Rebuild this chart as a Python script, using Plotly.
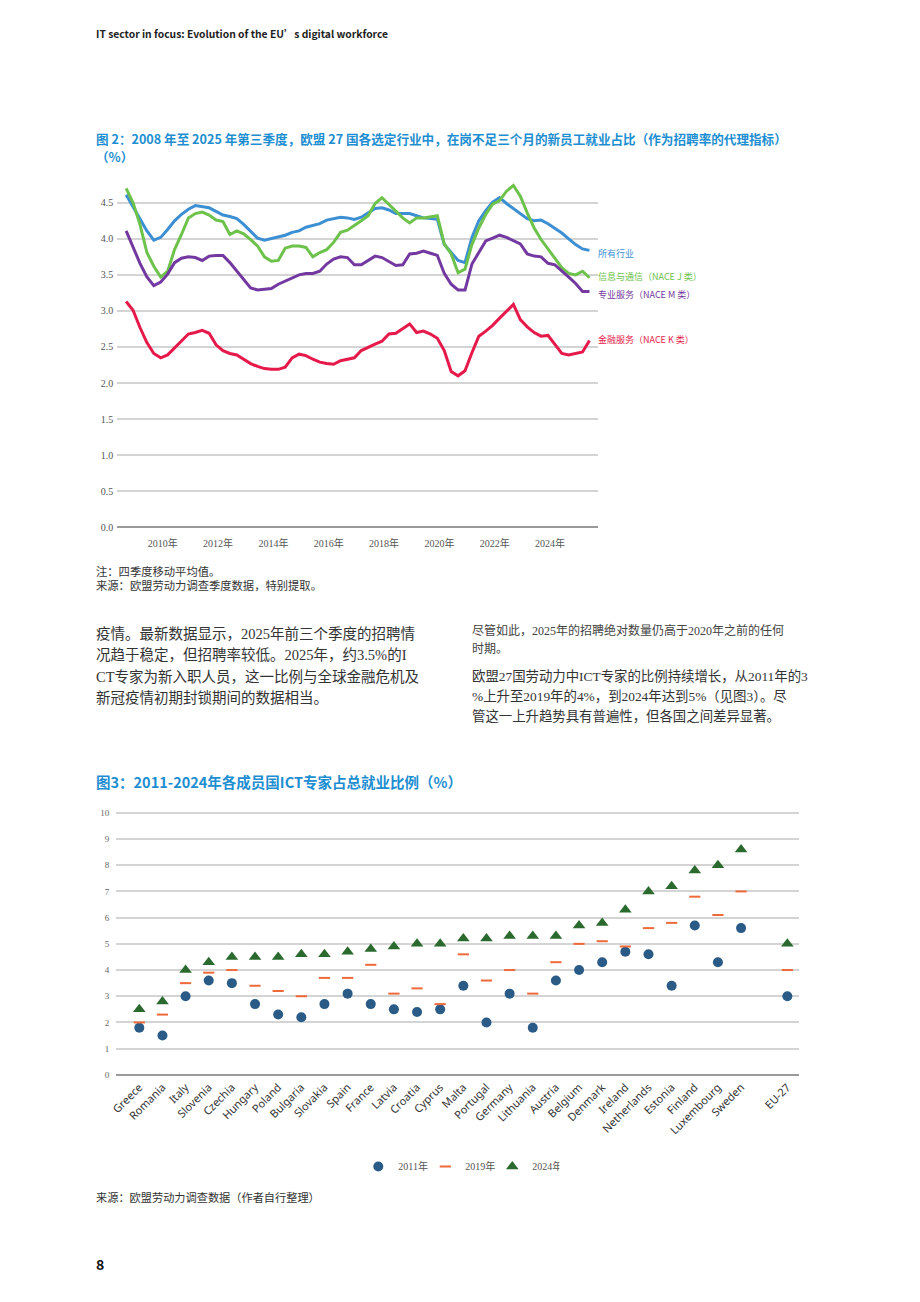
import plotly.graph_objects as go

# ---------------- Data: Figure 2 (quarterly, 2008Q4 - 2025Q3) ----------------
quarters = [f"{y}Q{q}" for y in range(2008, 2026) for q in range(1, 5)]
quarters = quarters[quarters.index("2008Q4"):quarters.index("2025Q3") + 1]

all_industries = [4.61, 4.45, 4.29, 4.11, 3.98, 4.02, 4.13, 4.25, 4.34, 4.41, 4.46, 4.44, 4.43, 4.38, 4.33, 4.31,
                  4.28, 4.20, 4.11, 4.01, 3.98, 4.00, 4.03, 4.05, 4.09, 4.11, 4.16, 4.19, 4.21, 4.26, 4.28, 4.30,
                  4.29, 4.27, 4.30, 4.36, 4.42, 4.43, 4.40, 4.35, 4.35, 4.35, 4.32, 4.29, 4.28, 4.27, 3.92, 3.81,
                  3.70, 3.67, 4.02, 4.25, 4.39, 4.51, 4.57, 4.49, 4.42, 4.35, 4.28, 4.25, 4.26, 4.21, 4.15, 4.08,
                  4.00, 3.92, 3.86, 3.84]
info_comm = [4.70, 4.50, 4.20, 3.81, 3.62, 3.47, 3.55, 3.85, 4.06, 4.29, 4.35, 4.37, 4.33, 4.26, 4.24, 4.06,
             4.11, 4.07, 3.99, 3.90, 3.75, 3.69, 3.70, 3.87, 3.90, 3.90, 3.88, 3.75, 3.81, 3.85, 3.95, 4.09,
             4.12, 4.18, 4.25, 4.32, 4.49, 4.57, 4.48, 4.38, 4.29, 4.22, 4.29, 4.29, 4.31, 4.32, 3.93, 3.79,
             3.53, 3.58, 3.92, 4.15, 4.34, 4.48, 4.53, 4.66, 4.74, 4.59, 4.36, 4.15, 3.99, 3.86, 3.72, 3.60,
             3.52, 3.50, 3.55, 3.46]
prof_services = [4.11, 3.88, 3.66, 3.47, 3.35, 3.40, 3.51, 3.67, 3.73, 3.75, 3.74, 3.70, 3.76, 3.77, 3.77, 3.67,
                 3.55, 3.43, 3.32, 3.29, 3.30, 3.31, 3.37, 3.41, 3.45, 3.50, 3.52, 3.52, 3.55, 3.65, 3.72, 3.75,
                 3.74, 3.64, 3.64, 3.70, 3.76, 3.74, 3.69, 3.63, 3.64, 3.79, 3.80, 3.83, 3.80, 3.77, 3.52, 3.37,
                 3.29, 3.29, 3.65, 3.81, 3.97, 4.01, 4.05, 4.02, 3.98, 3.93, 3.79, 3.76, 3.75, 3.66, 3.64, 3.56,
                 3.47, 3.38, 3.27, 3.27]
fin_services = [3.13, 3.01, 2.77, 2.56, 2.41, 2.35, 2.39, 2.49, 2.59, 2.68, 2.70, 2.73, 2.69, 2.53, 2.45, 2.41,
                2.39, 2.33, 2.27, 2.23, 2.20, 2.19, 2.19, 2.22, 2.35, 2.40, 2.38, 2.33, 2.29, 2.27, 2.26, 2.31,
                2.33, 2.35, 2.45, 2.50, 2.54, 2.58, 2.68, 2.69, 2.75, 2.82, 2.70, 2.72, 2.68, 2.62, 2.45, 2.16,
                2.10, 2.17, 2.42, 2.65, 2.72, 2.80, 2.90, 3.00, 3.09, 2.88, 2.78, 2.70, 2.65, 2.66, 2.54, 2.41,
                2.39, 2.41, 2.43, 2.59]
series_names = ["所有行业", "信息与通信（NACE J 类）", "专业服务（NACE M 类）", "金融服务（NACE K 类）"]
tick_years = [2010, 2012, 2014, 2016, 2018, 2020, 2022, 2024]
y1_ticks = [0.0, 0.5, 1.0, 1.5, 2.0, 2.5, 3.0, 3.5, 4.0, 4.5]

# ---------------- Data: Figure 3 (ICT specialists share) ----------------
countries = ["Greece", "Romania", "Italy", "Slovenia", "Czechia", "Hungary", "Poland", "Bulgaria", "Slovakia",
             "Spain", "France", "Latvia", "Croatia", "Cyprus", "Malta", "Portugal", "Germany", "Lithuania",
             "Austria", "Belgium", "Denmark", "Ireland", "Netherlands", "Estonia", "Finland", "Luxembourg",
             "Sweden", "EU-27"]
v2011 = [1.8, 1.5, 3.0, 3.6, 3.5, 2.7, 2.3, 2.2, 2.7, 3.1, 2.7, 2.5, 2.4, 2.5, 3.4, 2.0, 3.1, 1.8,
         3.6, 4.0, 4.3, 4.7, 4.6, 3.4, 5.7, 4.3, 5.6, 3.0]
v2019 = [2.0, 2.3, 3.5, 3.9, 4.0, 3.4, 3.2, 3.0, 3.7, 3.7, 4.2, 3.1, 3.3, 2.7, 4.6, 3.6, 4.0, 3.1,
         4.3, 5.0, 5.1, 4.9, 5.6, 5.8, 6.8, 6.1, 7.0, 4.0]
v2024 = [2.5, 2.8, 4.0, 4.3, 4.5, 4.5, 4.5, 4.6, 4.6, 4.7, 4.8, 4.9, 5.0, 5.0, 5.2, 5.2, 5.3, 5.3,
         5.3, 5.7, 5.8, 6.3, 7.0, 7.2, 7.8, 8.0, 8.6, 5.0]
year_names = ["2011年", "2019年", "2024年"]

# ---------------- helpers ----------------
W, H = 920, 1302
def px(x):
    return x / W
def py(y):
    return 1 - y / H

BLUE_T = "#1C8ED1"
SERIF = "Liberation Serif, Noto Sans CJK SC, serif"
CJK = "Noto Sans CJK SC, sans-serif"
BODY = "Liberation Serif, Noto Sans CJK SC, serif"

fig = go.Figure()

# ---- Figure 2 lines ----
xq = list(range(len(quarters)))
colors1 = ["#3D8FD3", "#6DC24B", "#7339A0", "#E5194A"]
for name, vals, c in zip(series_names, [all_industries, info_comm, prof_services, fin_services], colors1):
    fig.add_trace(go.Scatter(x=xq, y=vals, mode="lines", name=name, line=dict(color=c, width=3),
                             xaxis="x", yaxis="y", showlegend=False, hoverinfo="skip"))

# right-side labels for figure 2
label_y = [254, 278, 296, 341]
for name, c, yy in zip(series_names, colors1, label_y):
    fig.add_annotation(x=px(594), y=py(yy), xref="paper", yref="paper", text=name, showarrow=False,
                       xanchor="left", yanchor="middle", font=dict(family=CJK, size=9, color=c))

# ---- Figure 3 markers ----
xpos = list(range(len(countries) - 1)) + [len(countries)]
fig.add_trace(go.Scatter(x=xpos, y=v2011, mode="markers", name=year_names[0], xaxis="x2", yaxis="y2",
                         marker=dict(symbol="circle", size=10, color="#2A5A86"), cliponaxis=False))
fig.add_trace(go.Scatter(x=xpos, y=v2019, mode="markers", name=year_names[1], xaxis="x2", yaxis="y2",
                         marker=dict(symbol="line-ew", size=8, color="#EE6A3A",
                                     line=dict(color="#EE6A3A", width=2)), cliponaxis=False))
fig.add_trace(go.Scatter(x=xpos, y=v2024, mode="markers", name=year_names[2], xaxis="x2", yaxis="y2",
                         marker=dict(symbol="triangle-up", size=11, color="#2B6A2E"), cliponaxis=False))

grid_c = "#D4D4D4"
tick_pos = [quarters.index(f"{y}Q1") + 0.3 for y in tick_years]

fig.update_layout(
    width=W, height=H, margin=dict(l=0, r=0, t=0, b=0),
    paper_bgcolor="white", plot_bgcolor="white",
    xaxis=dict(domain=[px(111), px(596)], range=[-1.3, len(quarters) - 1 + 1.3],
               tickvals=tick_pos, ticktext=[f"{y}年" for y in tick_years], showgrid=False,
               zeroline=False, showline=False, ticks="", ticklabelstandoff=9,
               tickfont=dict(family=SERIF, size=10, color="#555"), anchor="y"),
    yaxis=dict(domain=[py(529.3), py(178.2)], range=[0, 4.85], tickvals=y1_ticks,
               ticktext=[f"{v:.1f}" for v in y1_ticks], showgrid=True, gridcolor=grid_c, gridwidth=1.5,
               zeroline=True, zerolinecolor="#9A9A9A", zerolinewidth=2, showline=False, ticks="",
               ticklabelstandoff=3, tickfont=dict(family=SERIF, size=10, color="#555"), anchor="x"),
    xaxis2=dict(domain=[px(110), px(798)], range=[-1, len(countries) + 0.5], tickvals=xpos,
                ticktext=countries, tickangle=-45, showgrid=False, zeroline=False, showline=False, ticks="",
                ticklabelstandoff=3, tickfont=dict(family="Noto Sans, sans-serif", size=11, color="#333"),
                anchor="y2"),
    yaxis2=dict(domain=[py(1079), py(810.7)], range=[0, 10.2], dtick=1, showgrid=True, gridcolor=grid_c,
                gridwidth=1.5, zeroline=True, zerolinecolor="#9A9A9A", zerolinewidth=1.5, showline=False,
                ticks="", ticklabelstandoff=6, tickfont=dict(family=SERIF, size=9, color="#666"), anchor="x2"),
    legend=dict(orientation="h", x=px(354), y=py(1171), xanchor="left", yanchor="middle",
                font=dict(family=SERIF, size=10, color="#555"), itemwidth=30, entrywidth=22,
                entrywidthmode="pixels", bgcolor="rgba(0,0,0,0)"),
    showlegend=True,
)

# ---------------- Text ----------------
def text(x, y, s, size, color="#333", family=BODY, bold=False):
    fig.add_annotation(x=px(x), y=py(y), xref="paper", yref="paper", text=(f"<b>{s}</b>" if bold else s),
                       showarrow=False, xanchor="left", yanchor="middle", align="left",
                       font=dict(family=family, size=size, color=color))

text(88, 34, "IT sector in focus: Evolution of the EU’s digital workforce", 10.3, "#222", CJK, True)
text(88, 139, "图 2：2008 年至 2025 年第三季度，欧盟 27 国各选定行业中，在岗不足三个月的新员工就业占比（作为招聘率的代理指标）",
     12.6, BLUE_T, CJK, True)
text(88, 157, "（%）", 12.6, BLUE_T, CJK, True)
text(88, 574, "注：四季度移动平均值。", 11.3, "#333")
text(88, 588, "来源：欧盟劳动力调查季度数据，特别提取。", 11.3, "#333")

left_lines = ["疫情。最新数据显示，2025年前三个季度的招聘情",
              "况趋于稳定，但招聘率较低。2025年，约3.5%的I",
              "CT专家为新入职人员，这一比例与全球金融危机及",
              "新冠疫情初期封锁期间的数据相当。"]
for i, s in enumerate(left_lines):
    text(88, 636 + i * 21.5, s, 14.5, "#333")

text(467, 633, "尽管如此，2025年的招聘绝对数量仍高于2020年之前的任何", 12, "#444")
text(467, 651, "时期。", 12, "#444")
right_lines = ["欧盟27国劳动力中ICT专家的比例持续增长，从2011年的3",
               "%上升至2019年的4%，到2024年达到5%（见图3）。尽",
               "管这一上升趋势具有普遍性，但各国之间差异显著。"]
for i, s in enumerate(right_lines):
    text(467, 679 + i * 20, s, 13.4, "#333")

text(88, 785, "图3：2011-2024年各成员国ICT专家占总就业比例（%）", 14.5, BLUE_T, CJK, True)
text(88, 1202, "来源：欧盟劳动力调查数据（作者自行整理）", 11.2, "#333")
text(88, 1269, "8", 14, "#111", CJK, True)

fig.write_html("out.html")
